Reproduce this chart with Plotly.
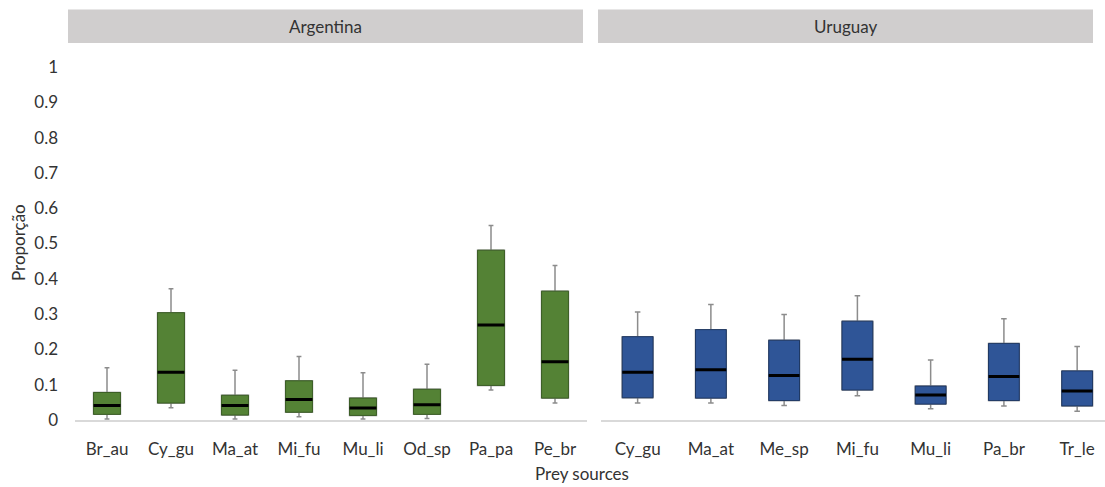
import plotly.graph_objects as go

# ---- data ----
arg_cats = ["Br_au", "Cy_gu", "Ma_at", "Mi_fu", "Mu_li", "Od_sp", "Pa_pa", "Pe_br"]
arg_low = [0.003, 0.035, 0.003, 0.009, 0.003, 0.004, 0.085, 0.048]
arg_q1 = [0.016, 0.048, 0.014, 0.022, 0.013, 0.016, 0.098, 0.062]
arg_med = [0.041, 0.135, 0.041, 0.058, 0.034, 0.043, 0.269, 0.165]
arg_q3 = [0.078, 0.304, 0.070, 0.111, 0.062, 0.087, 0.481, 0.365]
arg_high = [0.148, 0.372, 0.141, 0.180, 0.134, 0.158, 0.551, 0.438]

uru_cats = ["Cy_gu", "Ma_at", "Me_sp", "Mi_fu", "Mu_li", "Pa_br", "Tr_le"]
uru_low = [0.048, 0.048, 0.041, 0.069, 0.032, 0.040, 0.025]
uru_q1 = [0.063, 0.062, 0.055, 0.085, 0.045, 0.055, 0.040]
uru_med = [0.135, 0.142, 0.126, 0.172, 0.071, 0.123, 0.082]
uru_q3 = [0.236, 0.256, 0.226, 0.280, 0.096, 0.217, 0.139]
uru_high = [0.306, 0.327, 0.299, 0.352, 0.170, 0.287, 0.208]

panels = ["Argentina", "Uruguay"]
y_ticks = [0, 0.1, 0.2, 0.3, 0.4, 0.5, 0.6, 0.7, 0.8, 0.9, 1]

W, H = 1105, 487
FONT = "Lato"
TXT = "#333333"
GREEN, GREEN_EDGE = "#548235", "#3B5E25"
BLUE, BLUE_EDGE = "#2F5597", "#1F3864"
WHISK = "#8C8C8C"


def px_x(p):
    return p / W


def px_y(p):
    return (H - p) / H


fig = go.Figure()


def add_boxes(cats, low, q1, med, q3, high, fill, edge, xa, ya):
    common = dict(x=cats, xaxis=xa, yaxis=ya, width=0.42, boxpoints=False,
                  showlegend=False, hoverinfo="skip")
    # whiskers (gray)
    fig.add_trace(go.Box(q1=q1, median=med, q3=q3, lowerfence=low, upperfence=high,
                         fillcolor=fill, line=dict(color=WHISK, width=1.5),
                         whiskerwidth=0.18, **common))
    # box outline
    fig.add_trace(go.Box(q1=q1, median=med, q3=q3, lowerfence=q1, upperfence=q3,
                         fillcolor=fill, line=dict(color=edge, width=1),
                         whiskerwidth=0, **common))
    # median (black thick)
    fig.add_trace(go.Box(q1=med, median=med, q3=med, lowerfence=med, upperfence=med,
                         fillcolor="black", line=dict(color="black", width=3),
                         whiskerwidth=0, **common))


add_boxes(arg_cats, arg_low, arg_q1, arg_med, arg_q3, arg_high, GREEN, GREEN_EDGE, "x", "y")
add_boxes(uru_cats, uru_low, uru_q1, uru_med, uru_q3, uru_high, BLUE, BLUE_EDGE, "x2", "y2")

ydom = [px_y(420), px_y(67)]
axis_x = dict(type="category", showgrid=False, zeroline=False, showline=True,
              linecolor="#D9D9D9", linewidth=2, ticks="", ticklabelstandoff=13,
              automargin=False,
              tickfont=dict(family=FONT, size=17, color=TXT), fixedrange=True)

fig.update_layout(
    width=W, height=H,
    margin=dict(l=0, r=0, t=0, b=0, pad=0, autoexpand=False),
    paper_bgcolor="white", plot_bgcolor="white",
    font=dict(family=FONT, size=17, color=TXT),
    boxmode="overlay",
    showlegend=False,
    xaxis=dict(domain=[px_x(75), px_x(587)], range=[-0.5, 7.5], anchor="y", **axis_x),
    xaxis2=dict(domain=[px_x(601), 1.0], range=[-0.5, 6.38], anchor="y2", **axis_x),
    yaxis=dict(domain=ydom, range=[0, 1], tickvals=y_ticks,
               ticktext=[f"{v:g}" for v in y_ticks],
               showgrid=False, zeroline=False, showline=False, ticks="",
               ticklabelstandoff=16, anchor="x", automargin=False,
               tickfont=dict(family=FONT, size=17, color=TXT), fixedrange=True),
    yaxis2=dict(domain=ydom, range=[0, 1], visible=False, anchor="x2", matches="y",
                automargin=False),
)

# strip headers
strips = [(68, 583), (598, 1093)]
for (x0, x1), name in zip(strips, panels):
    fig.add_shape(type="rect", xref="paper", yref="paper",
                  x0=px_x(x0), x1=px_x(x1), y0=px_y(43), y1=px_y(9.5),
                  fillcolor="#D0CECE", line=dict(width=0), layer="below")
    fig.add_annotation(text=name, xref="paper", yref="paper",
                       x=px_x((x0 + x1) / 2), y=px_y(26.5), showarrow=False,
                       xanchor="center", yanchor="middle",
                       font=dict(family=FONT, size=17, color=TXT))

# axis titles
fig.add_annotation(text="Proporção", xref="paper", yref="paper",
                   x=px_x(18), y=px_y(243), textangle=-90, showarrow=False,
                   xanchor="center", yanchor="middle",
                   font=dict(family=FONT, size=17, color=TXT))
fig.add_annotation(text="Prey sources", xref="paper", yref="paper",
                   x=px_x(582), y=px_y(486), showarrow=False,
                   xanchor="center", yanchor="bottom",
                   font=dict(family=FONT, size=17, color=TXT))

fig.write_html("out.html", config={"displayModeBar": False},
               post_script="document.body.style.margin='0';document.body.style.overflow='hidden';")
